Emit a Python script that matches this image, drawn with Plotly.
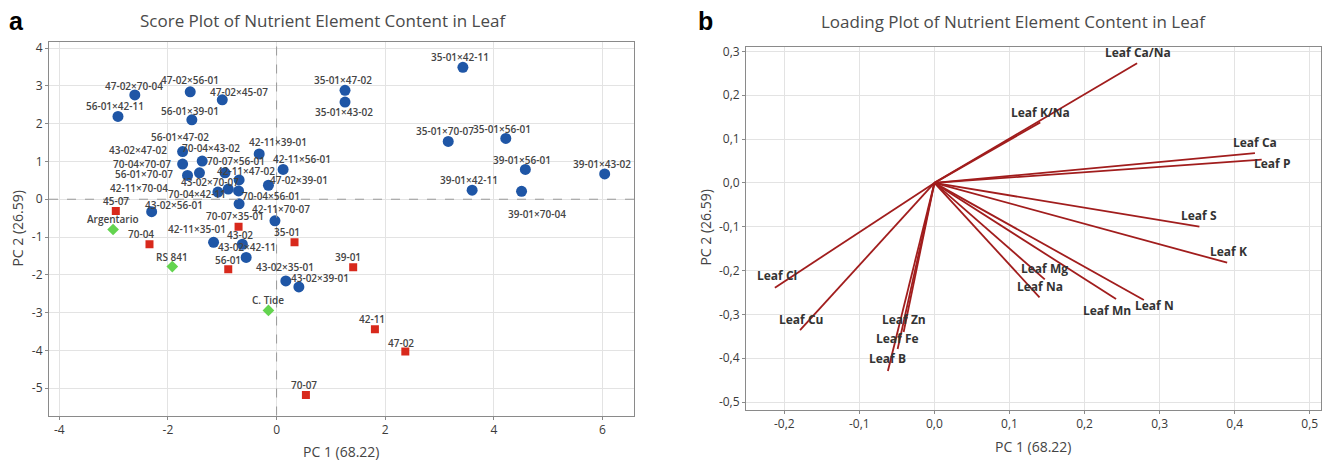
import plotly.graph_objects as go

W, H = 1328, 463

# ---------------- Score plot data ----------------
hyb_names = ["47-02×70-04", "47-02×56-01", "47-02×45-07", "56-01×42-11", "56-01×39-01",
             "43-02×47-02", "56-01×47-02", "70-04×70-07", "70-04×43-02", "56-01×70-07",
             "70-07×56-01", "42-11×47-02", "70-04×42-11", "43-02×70-07", "42-11×70-04",
             "70-04×56-01", "42-11×39-01", "42-11×56-01", "47-02×39-01", "42-11×70-07",
             "43-02×56-01", "42-11×35-01", "70-07×35-01", "43-02×42-11", "43-02×35-01",
             "43-02×39-01", "35-01×42-11", "35-01×47-02", "35-01×43-02", "35-01×70-07",
             "35-01×56-01", "39-01×56-01", "39-01×43-02", "39-01×42-11", "39-01×70-04"]
hyb_pc1 = [-2.61, -1.59, -1.00, -2.92, -1.56,
           -1.73, -1.37, -1.73, -1.42, -1.64,
           -0.95, -0.69, -1.08, -0.89, -0.70,
           -0.69, -0.32, 0.12, -0.15, -0.03,
           -2.30, -1.16, -0.63, -0.56, 0.17,
           0.41, 3.43, 1.26, 1.26, 3.16,
           4.22, 4.58, 6.04, 3.60, 4.51]
hyb_pc2 = [2.76, 2.84, 2.63, 2.19, 2.10,
           1.26, 1.01, 0.93, 0.70, 0.63,
           0.70, 0.51, 0.19, 0.27, 0.22,
           -0.12, 1.20, 0.79, 0.37, -0.57,
           -0.33, -1.14, -1.19, -1.54, -2.16,
           -2.32, 3.49, 2.88, 2.57, 1.53,
           1.61, 0.79, 0.67, 0.24, 0.21]

par_names = ["45-07", "70-04", "43-02", "56-01", "35-01", "39-01", "42-11", "47-02", "70-07"]
par_pc1 = [-2.96, -2.34, -0.70, -0.89, 0.33, 1.41, 1.81, 2.37, 0.54]
par_pc2 = [-0.31, -1.19, -0.73, -1.85, -1.14, -1.80, -3.44, -4.03, -5.18]

chk_names = ["Argentario", "RS 841", "C. Tide"]
chk_pc1 = [-3.01, -1.92, -0.15]
chk_pc2 = [-0.80, -1.78, -2.94]

score_xtickvals = [-4, -2, 0, 2, 4, 6]
score_xticktext = ["-4", "-2", "0", "2", "4", "6"]
score_ytickvals = [4, 3, 2, 1, 0, -1, -2, -3, -4, -5]
score_yticktext = ["4", "3", "2", "1", "0", "-1", "-2", "-3", "-4", "-5"]

# ---------------- Loading plot data ----------------
load_names = ["Leaf Ca/Na", "Leaf K/Na", "Leaf Ca", "Leaf P", "Leaf S", "Leaf K", "Leaf Mg",
              "Leaf Na", "Leaf Mn", "Leaf N", "Leaf Cl", "Leaf Cu", "Leaf Zn", "Leaf Fe", "Leaf B"]
load_pc1 = [0.270, 0.141, 0.427, 0.436, 0.353, 0.390, 0.147,
            0.140, 0.242, 0.279, -0.2125, -0.179, -0.041, -0.049, -0.062]
load_pc2 = [0.273, 0.138, 0.068, 0.053, -0.100, -0.182, -0.220,
            -0.261, -0.265, -0.267, -0.239, -0.336, -0.340, -0.379, -0.429]

load_xtickvals = [-0.2, -0.1, 0.0, 0.1, 0.2, 0.3, 0.4, 0.5]
load_xticktext = ["-0,2", "-0,1", "0,0", "0,1", "0,2", "0,3", "0,4", "0,5"]
load_ytickvals = [0.3, 0.2, 0.1, 0.0, -0.1, -0.2, -0.3, -0.4, -0.5]
load_yticktext = ["0,3", "0,2", "0,1", "0,0", "-0,1", "-0,2", "-0,3", "-0,4", "-0,5"]

# ---------------- label offsets (pixels: dx right, dy up) ----------------
hyb_off = [(-1, 9), (0, 12), (17, 8), (-3, 10), (-2, 9),
           (-45, 2), (-22, 24), (-41, 0), (12, 25), (-44, 1),
           (11, 12), (7, 9), (-21, -2), (-18, 7), (-100, 3),
           (32, 8), (19, 12), (19, 10), (31, 5), (6, 12),
           (22, 7), (-17, 13), (-7, 28), (1, 10), (-1, 14),
           (21, 9), (-3, 10), (-2, 10), (-1, -10), (-3, 10),
           (-4, 9), (-3, 9), (-3, 10), (-3, 10), (15, -23)]
par_off = [(0, 10), (-8, 10), (1, -8), (0, 9), (-8, 10), (-5, 10), (-3, 10), (-4, 9), (-2, 10)]
chk_off = [(0, 10), (0, 10), (0, 10)]
load_off = [(1, 11), (0, 10), (0, 11), (10, -4), (0, 11), (1, 11), (0, 11),
            (0, 11), (-9, -11), (11, -6), (2, 12), (1, 11), (0, 12), (0, 11), (0, 12)]

FONT = "Open Sans"
GRID = "#e3e3e3"
FRAME = "#8a8a8a"
TXT = "#3a3a3a"

def px(x):
    return x / W

def py(y):
    return 1 - y / H

fig = go.Figure()

fig.add_trace(go.Scatter(x=hyb_pc1, y=hyb_pc2, mode="markers", xaxis="x", yaxis="y",
                         marker=dict(symbol="circle", size=11, color="#1f56a6"),
                         showlegend=False, hoverinfo="text", text=hyb_names))
fig.add_trace(go.Scatter(x=par_pc1, y=par_pc2, mode="markers", xaxis="x", yaxis="y",
                         marker=dict(symbol="square", size=8, color="#d8291c"),
                         showlegend=False, hoverinfo="text", text=par_names))
fig.add_trace(go.Scatter(x=chk_pc1, y=chk_pc2, mode="markers", xaxis="x", yaxis="y",
                         marker=dict(symbol="diamond", size=9, color="#63d44f"),
                         showlegend=False, hoverinfo="text", text=chk_names))

lx, ly = [], []
for a, b in zip(load_pc1, load_pc2):
    lx += [0, a, None]
    ly += [0, b, None]
fig.add_trace(go.Scatter(x=lx, y=ly, mode="lines", xaxis="x2", yaxis="y2",
                         line=dict(color="#a11d1d", width=1.8),
                         showlegend=False, hoverinfo="skip"))

ann = []
def lab(names, xs, ys, offs, xr, yr, size, weight, color):
    for n, a, b, (dx, dy) in zip(names, xs, ys, offs):
        ann.append(dict(x=a, y=b, xref=xr, yref=yr, text=n, showarrow=False,
                        xshift=dx, yshift=dy, xanchor="center", yanchor="middle",
                        font=dict(family=FONT, size=size, color=color, weight=weight)))

lab(hyb_names, hyb_pc1, hyb_pc2, hyb_off, "x", "y", 10, 600, "#444444")
lab(par_names, par_pc1, par_pc2, par_off, "x", "y", 10, 600, "#444444")
lab(chk_names, chk_pc1, chk_pc2, chk_off, "x", "y", 10, 600, "#444444")
lab(load_names, load_pc1, load_pc2, load_off, "x2", "y2", 12, 700, "#333333")

def ptext(t, x, y, size, color, family=FONT, weight=400, angle=0):
    ann.append(dict(x=px(x), y=py(y), xref="paper", yref="paper", text=t, showarrow=False,
                    xanchor="center", yanchor="middle", textangle=angle,
                    font=dict(family=family, size=size, color=color, weight=weight)))

ptext("Score Plot of Nutrient Element Content in Leaf", 323, 17, 17, "#4a4a4a")
ptext("Loading Plot of Nutrient Element Content in Leaf", 1013, 18, 17, "#4a4a4a")
ptext("a", 16, 17, 25, "#000000", family="Liberation Sans", weight=700)
ptext("b", 706, 17, 25, "#000000", family="Liberation Sans", weight=700)
ptext("PC 1 (68.22)", 341, 452, 14, "#444444")
ptext("PC 1 (68.22)", 1033, 447, 14, "#444444")
ptext("PC 2 (26.59)", 18, 227, 14, "#444444", angle=-90)
ptext("PC 2 (26.59)", 706, 226, 14, "#444444", angle=-90)

shapes = [
    dict(type="line", xref="x", yref="y domain", x0=0, x1=0, y0=0, y1=1,
         line=dict(color="#9a9a9a", width=1, dash="dash")),
    dict(type="line", xref="x domain", yref="y", x0=0, x1=1, y0=0, y1=0,
         line=dict(color="#9a9a9a", width=1, dash="dash")),
]

ax_common = dict(showgrid=True, gridcolor=GRID, gridwidth=1, zeroline=False,
                 showline=True, linecolor=FRAME, linewidth=1, mirror=True,
                 ticks="outside", ticklen=3, tickcolor=FRAME,
                 tickfont=dict(family=FONT, size=12, color=TXT))

fig.update_layout(
    width=W, height=H, margin=dict(l=0, r=0, t=0, b=0),
    paper_bgcolor="white", plot_bgcolor="white",
    font=dict(family=FONT),
    xaxis=dict(domain=[px(49), px(634)], range=[-4.19, 6.58], anchor="y",
               tickmode="array", tickvals=score_xtickvals, ticktext=score_xticktext, **ax_common),
    yaxis=dict(domain=[py(416), py(38)], range=[-5.72, 4.17], anchor="x",
               tickmode="array", tickvals=score_ytickvals, ticktext=score_yticktext, **ax_common),
    xaxis2=dict(domain=[px(746), px(1321)], range=[-0.251, 0.515], anchor="y2",
                tickmode="array", tickvals=load_xtickvals, ticktext=load_xticktext, **ax_common),
    yaxis2=dict(domain=[py(410), py(43)], range=[-0.517, 0.311], anchor="x2",
                tickmode="array", tickvals=load_ytickvals, ticktext=load_yticktext, **ax_common),
    annotations=ann, shapes=shapes, hovermode="closest",
)

fig.write_html("out.html")
